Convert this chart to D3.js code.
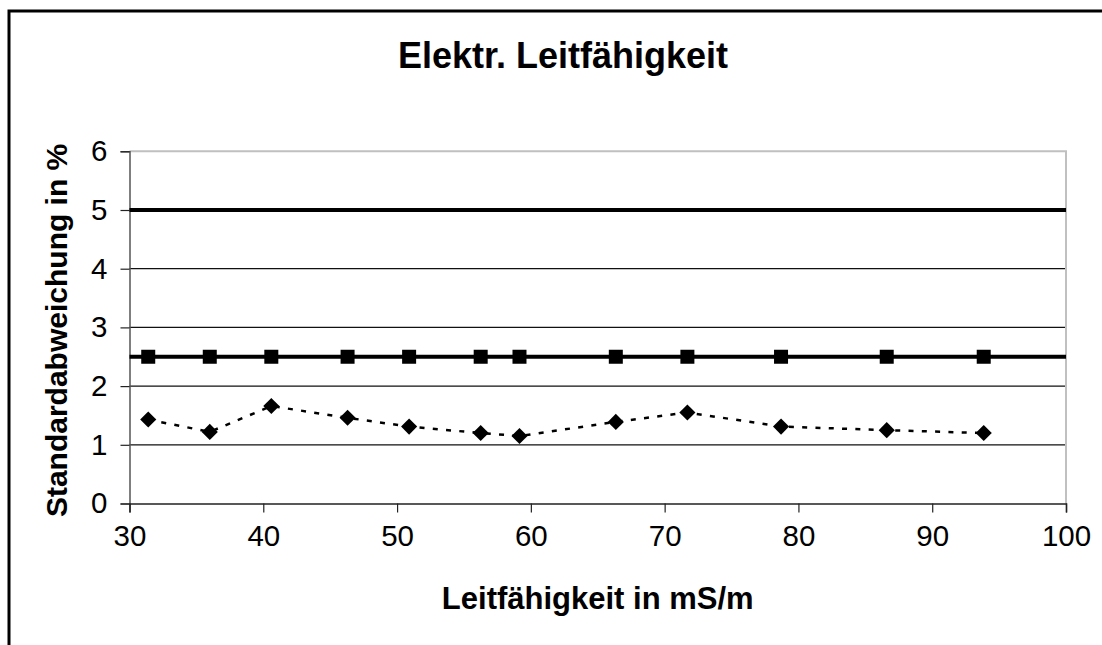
<!DOCTYPE html>
<html>
<head>
<meta charset="utf-8">
<script src="https://cdn.jsdelivr.net/npm/d3@7"></script>
<style>
  html, body { margin: 0; padding: 0; background: #fff; }
  svg { display: block; font-family: Arial, "Liberation Sans", sans-serif; }
</style>
</head>
<body>
<svg id="chart" width="1102" height="645"></svg>
<script>
// ---- data ----
const conductivity = [31.4, 36.0, 40.6, 46.3, 50.9, 56.25, 59.15, 66.35, 71.7, 78.7, 86.6, 93.85];
const stdDev       = [1.43, 1.22, 1.66, 1.46, 1.31, 1.20, 1.15, 1.39, 1.55, 1.31, 1.25, 1.20];
const reqLevel     = [2.5, 2.5, 2.5, 2.5, 2.5, 2.5, 2.5, 2.5, 2.5, 2.5, 2.5, 2.5];
const limitUpperX  = [30, 100];
const limitUpperY  = [5, 5];
const limitLowerX  = [30, 100];
const limitLowerY  = [2.5, 2.5];
const xTicks = [30, 40, 50, 60, 70, 80, 90, 100];
const yTicks = [0, 1, 2, 3, 4, 5, 6];
const titleText = "Elektr. Leitfähigkeit";
const xLabel = "Leitfähigkeit in mS/m";
const yLabel = "Standardabweichung in %";

// ---- layout ----
const svg = d3.select("#chart");
const L = 129.5, R = 1066, T = 151.3, B = 503.5;

const x = d3.scaleLinear().domain([30, 100]).range([L, R]);
const y = d3.scaleLinear().domain([0, 6]).range([B, T]);

// outer chart border (extends beyond view)
svg.append("rect")
  .attr("x", 9).attr("y", 11).attr("width", 1300).attr("height", 900)
  .attr("fill", "none").attr("stroke", "#000").attr("stroke-width", 3);

// title
svg.append("text")
  .attr("x", 563).attr("y", 68)
  .attr("text-anchor", "middle")
  .attr("font-size", 36).attr("font-weight", "bold")
  .text(titleText);

// gridlines
svg.append("g").selectAll("line")
  .data(yTicks.filter(d => d > 0 && d < 6))
  .join("line")
  .attr("x1", L).attr("x2", R)
  .attr("y1", d => y(d)).attr("y2", d => y(d))
  .attr("stroke", "#111").attr("stroke-width", 1.2);

// plot area border top/right (gray)
svg.append("path")
  .attr("d", `M${L},${T}H${R}V${B}`)
  .attr("fill", "none").attr("stroke", "#c0c0c0").attr("stroke-width", 2);

// y axis
const yAxis = d3.axisLeft(y).tickValues(yTicks).tickSize(9).tickPadding(13).tickFormat(d3.format("d"));
const gy = svg.append("g").attr("transform", `translate(${L},0)`).call(yAxis);
gy.select(".domain").attr("stroke", "#555").attr("stroke-width", 1.5);
gy.selectAll(".tick line").attr("stroke", "#222").attr("stroke-width", 1.2);
gy.selectAll(".tick text").attr("font-size", 29.5).attr("font-family", "Arial, 'Liberation Sans', sans-serif").attr("fill", "#000");

// x axis
const xAxis = d3.axisBottom(x).tickValues(xTicks).tickSize(9).tickPadding(13).tickFormat(d3.format("d"));
const gx = svg.append("g").attr("transform", `translate(0,${B})`).call(xAxis);
gx.select(".domain").attr("stroke", "#222").attr("stroke-width", 1.5);
gx.selectAll(".tick line").attr("stroke", "#222").attr("stroke-width", 1.2);
gx.selectAll(".tick text").attr("font-size", 29.5).attr("font-family", "Arial, 'Liberation Sans', sans-serif").attr("fill", "#000");

// axis labels
svg.append("text")
  .attr("x", (L + R) / 2).attr("y", 609)
  .attr("text-anchor", "middle")
  .attr("font-size", 31).attr("font-weight", "bold")
  .text(xLabel);

svg.append("text")
  .attr("transform", `translate(67,${(T + B) / 2 + 3}) rotate(-90)`)
  .attr("text-anchor", "middle")
  .attr("font-size", 30).attr("font-weight", "bold")
  .text(yLabel);

// limit lines
const lineGen = d3.line().x(d => x(d[0])).y(d => y(d[1]));
svg.append("path")
  .datum(d3.zip(limitUpperX, limitUpperY))
  .attr("d", lineGen)
  .attr("fill", "none").attr("stroke", "#000").attr("stroke-width", 4);
svg.append("path")
  .datum(d3.zip(limitLowerX, limitLowerY))
  .attr("d", lineGen)
  .attr("fill", "none").attr("stroke", "#000").attr("stroke-width", 4);

// square markers at 2.5
svg.append("g").selectAll("rect")
  .data(d3.zip(conductivity, reqLevel))
  .join("rect")
  .attr("x", d => x(d[0]) - 7).attr("y", d => y(d[1]) - 7)
  .attr("width", 14).attr("height", 14)
  .attr("fill", "#000");

// measured std dev: dashed line + diamonds
svg.append("path")
  .datum(d3.zip(conductivity, stdDev))
  .attr("d", lineGen)
  .attr("fill", "none").attr("stroke", "#000").attr("stroke-width", 2.5)
  .attr("stroke-dasharray", "5,8.3");

const diamond = d3.symbol().type(d3.symbolSquare).size(130);
svg.append("g").selectAll("path")
  .data(d3.zip(conductivity, stdDev))
  .join("path")
  .attr("d", diamond)
  .attr("transform", d => `translate(${x(d[0])},${y(d[1])}) rotate(45)`)
  .attr("fill", "#000");
</script>
</body>
</html>
